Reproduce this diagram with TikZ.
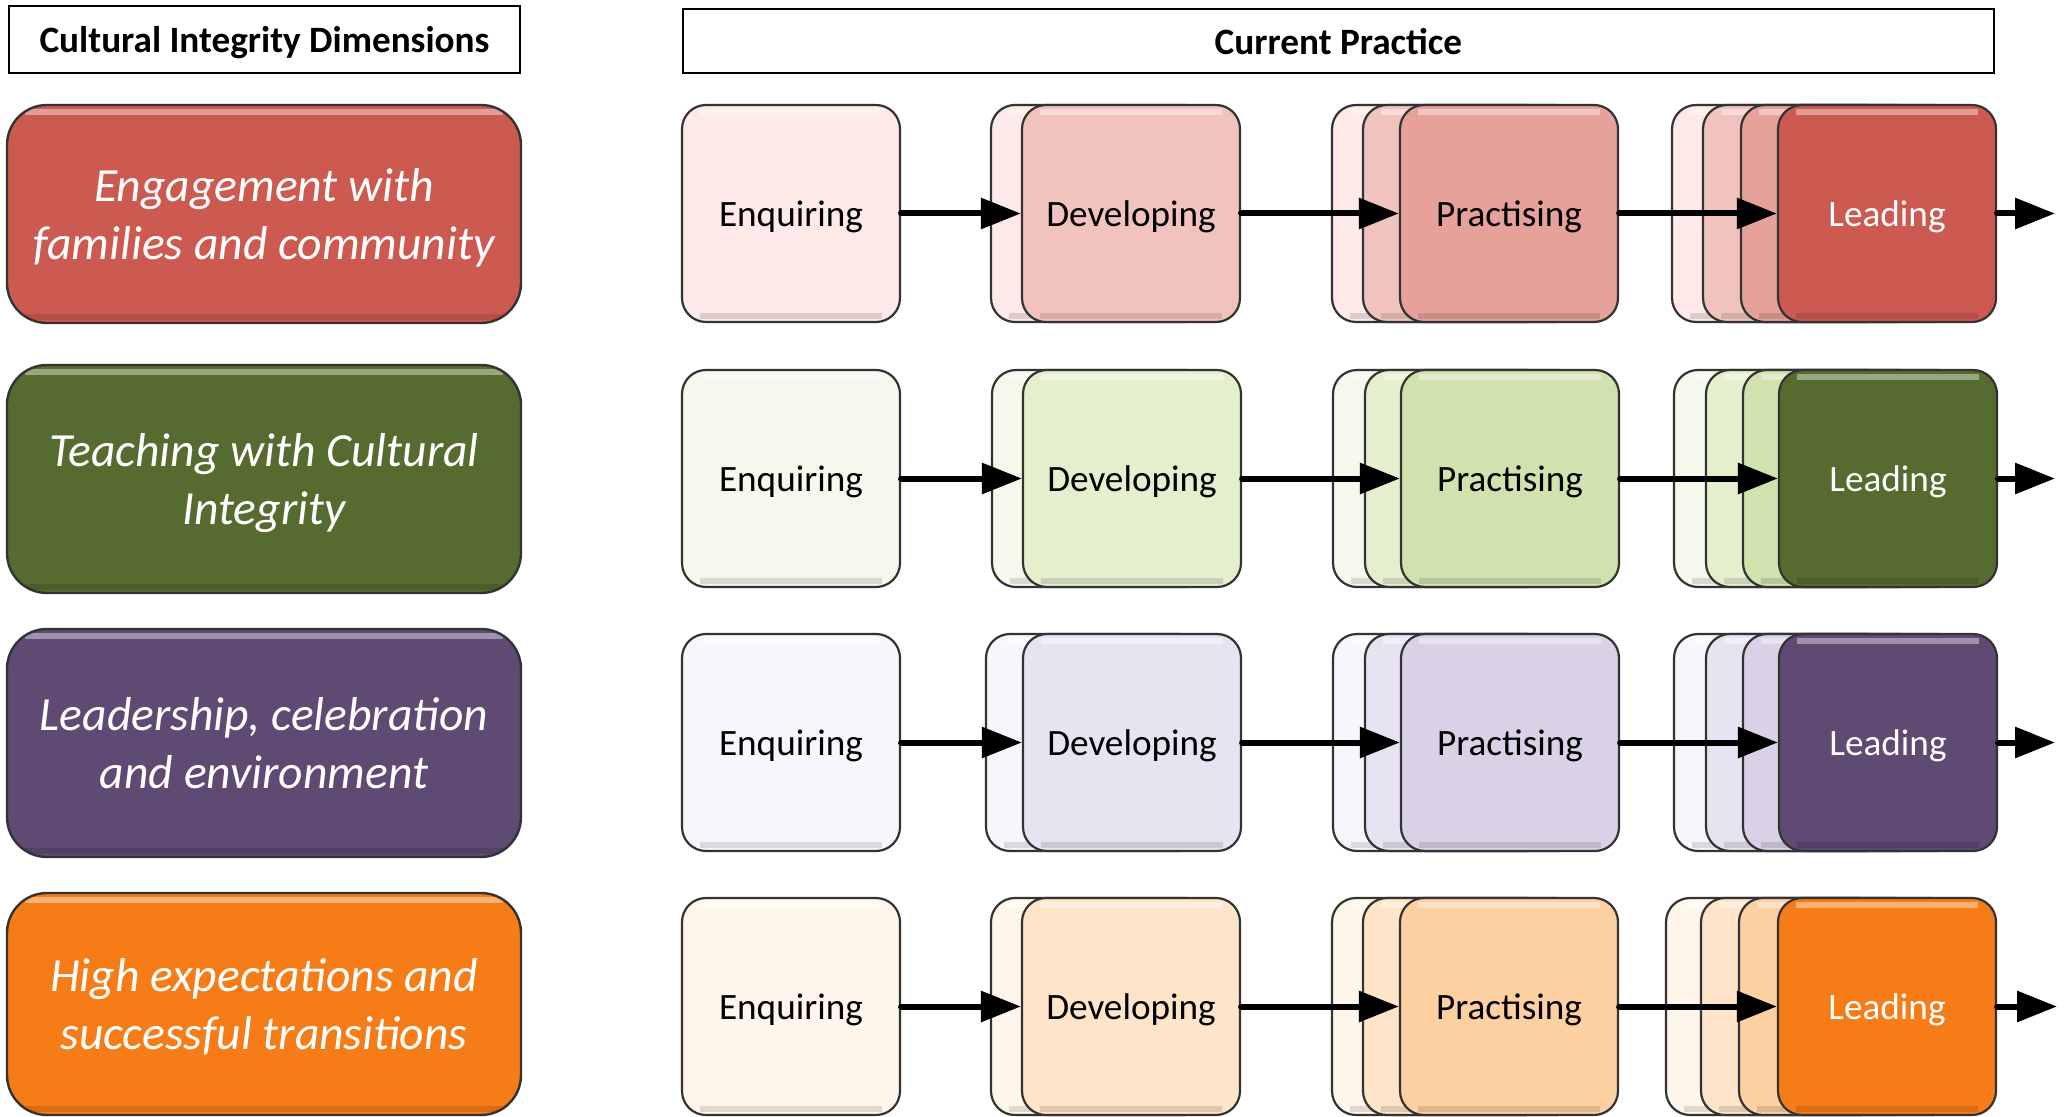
\documentclass[tikz,border=0pt]{standalone}
\usepackage{fontspec}
\setmainfont{Carlito}
\usetikzlibrary{arrows.meta}

% stage colours: enquiring, developing, practising, leading
\definecolor{redE}{HTML}{FDE9E7}
\definecolor{redD}{HTML}{F1C3BF}
\definecolor{redP}{HTML}{E6A19B}
\definecolor{redL}{HTML}{CD5A50}
\definecolor{grnE}{HTML}{F4F9EC}
\definecolor{grnD}{HTML}{E4EFCE}
\definecolor{grnP}{HTML}{D0E2AE}
\definecolor{grnL}{HTML}{566B30}
\definecolor{purE}{HTML}{F8F6FC}
\definecolor{purD}{HTML}{E8E3F1}
\definecolor{purP}{HTML}{D9D1E6}
\definecolor{purL}{HTML}{5E4A72}
\definecolor{orgE}{HTML}{FFF6EB}
\definecolor{orgD}{HTML}{FEE4C8}
\definecolor{orgP}{HTML}{FDD0A2}
\definecolor{orgL}{HTML}{F57C16}

\newcommand{\stagefont}{\fontsize{18.6}{22}\selectfont}
\newcommand{\dimfont}{\fontsize{23.8}{29}\selectfont\itshape}

\tikzset{
  bevel/.style={path picture={
    \draw[white, opacity=.4, line width=3pt]
      ([xshift=9pt,yshift=-3.5pt]path picture bounding box.north west) --
      ([xshift=-9pt,yshift=-3.5pt]path picture bounding box.north east);
    \draw[black, opacity=.12, line width=3pt]
      ([xshift=9pt,yshift=3pt]path picture bounding box.south west) --
      ([xshift=-9pt,yshift=3pt]path picture bounding box.south east);}},
  hdr/.style={draw, line width=1pt, fill=white, inner sep=0pt, text depth=0pt, font=\bfseries\stagefont},
  dim/.style={draw=black!80, line width=1.2pt, rounded corners=20pt, bevel, text depth=0pt,
    minimum width=257pt, inner sep=0pt, text=white, align=center, font=\dimfont},
  stg/.style={draw=black!80, line width=1.1pt, rounded corners=12pt, bevel, text depth=0pt,
    minimum width=109pt, minimum height=108.5pt, inner sep=0pt, font=\stagefont},
  flow/.style={line width=3pt, line cap=round, -{Triangle[length=20pt,width=15pt]}},
}

\begin{document}
\begin{tikzpicture}[x=0.5pt, y=-0.5pt]
\useasboundingbox (0,0) rectangle (2071,1117);

\node[hdr, minimum width=255.5pt, minimum height=33.5pt] (hdim) at (264.5,39.5) {Cultural Integrity Dimensions};
\node[hdr, minimum width=655.5pt, minimum height=32pt] (hcur) at (1338.5,41) {Current Practice};

% row 1
\node[dim, fill=redL, minimum height=109pt] (dim1) at (264,214) {Engagement with\\families and community};
\node[stg, fill=redE] (enq1) at (791,213.5) {Enquiring};
\node[stg, fill=redE] (dev1a) at (1100,213.5) {};
\node[stg, fill=redD] (dev1) at (1131,213.5) {Developing};
\node[stg, fill=redE] (pra1a) at (1441,213.5) {};
\node[stg, fill=redD] (pra1b) at (1472,213.5) {};
\node[stg, fill=redP] (pra1) at (1509,213.5) {Practising};
\node[stg, fill=redE] (lea1a) at (1781,213.5) {};
\node[stg, fill=redD] (lea1b) at (1812,213.5) {};
\node[stg, fill=redP] (lea1c) at (1850,213.5) {};
\node[stg, fill=redL, text=white] (lea1) at (1887,213.5) {Leading};
\coordinate (out1) at (2055,213.5);
\draw[flow] (enq1) -- (dev1);
\draw[flow] (dev1) -- (pra1);
\draw[flow] (pra1) -- (lea1);
\draw[flow] (lea1) -- (out1);

% row 2
\node[dim, fill=grnL, minimum height=114pt] (dim2) at (264,479) {Teaching with Cultural\\Integrity};
\node[stg, fill=grnE] (enq2) at (791,478.5) {Enquiring};
\node[stg, fill=grnE] (dev2a) at (1101,478.5) {};
\node[stg, fill=grnD] (dev2) at (1132,478.5) {Developing};
\node[stg, fill=grnE] (pra2a) at (1442,478.5) {};
\node[stg, fill=grnD] (pra2b) at (1474,478.5) {};
\node[stg, fill=grnP] (pra2) at (1510,478.5) {Practising};
\node[stg, fill=grnE] (lea2a) at (1783,478.5) {};
\node[stg, fill=grnD] (lea2b) at (1815,478.5) {};
\node[stg, fill=grnP] (lea2c) at (1852,478.5) {};
\node[stg, fill=grnL, text=white] (lea2) at (1888,478.5) {Leading};
\coordinate (out2) at (2055,478.5);
\draw[flow] (enq2) -- (dev2);
\draw[flow] (dev2) -- (pra2);
\draw[flow] (pra2) -- (lea2);
\draw[flow] (lea2) -- (out2);

% row 3
\node[dim, fill=purL, minimum height=114pt] (dim3) at (264,743) {Leadership, celebration\\and environment};
\node[stg, fill=purE] (enq3) at (791,742.5) {Enquiring};
\node[stg, fill=purE] (dev3a) at (1095,742.5) {};
\node[stg, fill=purD] (dev3) at (1132,742.5) {Developing};
\node[stg, fill=purE] (pra3a) at (1442,742.5) {};
\node[stg, fill=purD] (pra3b) at (1474,742.5) {};
\node[stg, fill=purP] (pra3) at (1510,742.5) {Practising};
\node[stg, fill=purE] (lea3a) at (1783,742.5) {};
\node[stg, fill=purD] (lea3b) at (1815,742.5) {};
\node[stg, fill=purP] (lea3c) at (1852,742.5) {};
\node[stg, fill=purL, text=white] (lea3) at (1888,742.5) {Leading};
\coordinate (out3) at (2055,742.5);
\draw[flow] (enq3) -- (dev3);
\draw[flow] (dev3) -- (pra3);
\draw[flow] (pra3) -- (lea3);
\draw[flow] (lea3) -- (out3);

% row 4
\node[dim, fill=orgL, minimum height=111pt] (dim4) at (264,1004) {High expectations and\\successful transitions};
\node[stg, fill=orgE] (enq4) at (791,1006.5) {Enquiring};
\node[stg, fill=orgE] (dev4a) at (1100,1006.5) {};
\node[stg, fill=orgD] (dev4) at (1131,1006.5) {Developing};
\node[stg, fill=orgE] (pra4a) at (1441,1006.5) {};
\node[stg, fill=orgD] (pra4b) at (1472,1006.5) {};
\node[stg, fill=orgP] (pra4) at (1509,1006.5) {Practising};
\node[stg, fill=orgE] (lea4a) at (1775,1006.5) {};
\node[stg, fill=orgD] (lea4b) at (1810,1006.5) {};
\node[stg, fill=orgP] (lea4c) at (1848,1006.5) {};
\node[stg, fill=orgL, text=white] (lea4) at (1887,1006.5) {Leading};
\coordinate (out4) at (2057,1006.5);
\draw[flow] (enq4) -- (dev4);
\draw[flow] (dev4) -- (pra4);
\draw[flow] (pra4) -- (lea4);
\draw[flow] (lea4) -- (out4);
\end{tikzpicture}
\end{document}
